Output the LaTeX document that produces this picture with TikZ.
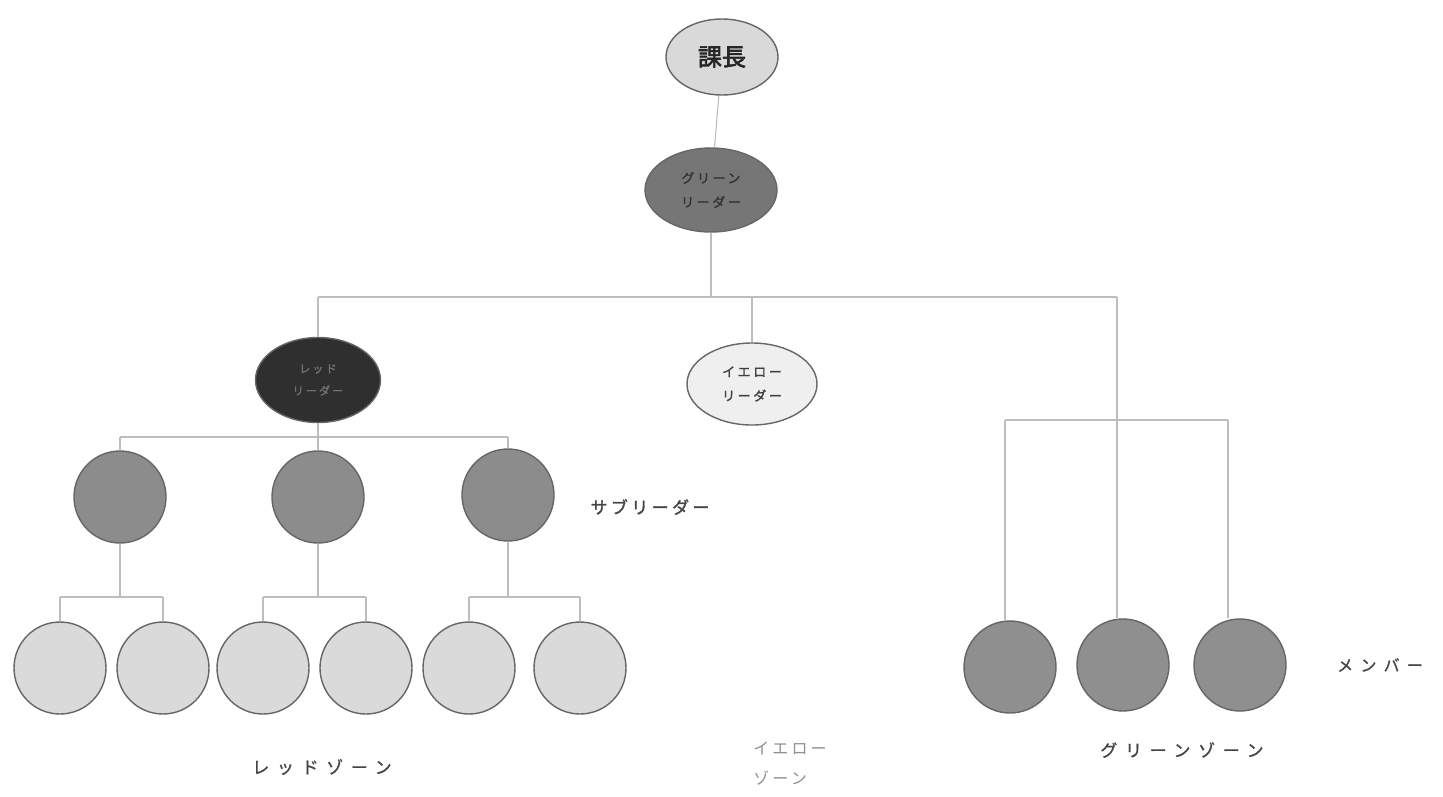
\documentclass[tikz,border=0pt]{standalone}
\usepackage{fontspec}
\usetikzlibrary{shapes.geometric}
\newfontfamily\cjk{Noto Sans CJK JP}[AutoFakeBold=2.5]
\newfontfamily\cjkwide{Noto Sans CJK JP}[LetterSpace=45,AutoFakeBold=1]
\newfontfamily\cjkmid{Noto Sans CJK JP}[LetterSpace=20,AutoFakeBold=1.5]
\definecolor{edgegray}{HTML}{666666}
\definecolor{linegray}{HTML}{BDBDBD}
\definecolor{chieffill}{HTML}{D9D9D9}
\definecolor{greenfill}{HTML}{767676}
\definecolor{redfill}{HTML}{2F2F2F}
\definecolor{yellowfill}{HTML}{EFEFEF}
\definecolor{subfill}{HTML}{8C8C8C}
\definecolor{leaffill}{HTML}{DADADA}
\definecolor{memberfill}{HTML}{8F8F8F}
\definecolor{labelgray}{HTML}{454545}
\tikzset{
  boss/.style={ellipse,draw=edgegray,line width=1.4pt,inner sep=0pt},
  member/.style={circle,draw=edgegray,line width=1.4pt,minimum size=92pt,inner sep=0pt},
  conn/.style={draw=linegray,line width=1.1pt},
  lbl/.style={font=\cjkwide\bfseries\fontsize{17}{20}\selectfont,text=labelgray}
}
\begin{document}
\begin{tikzpicture}[x=1pt,y=-1pt]
\useasboundingbox (0,0) rectangle (1443,796);
% leaders
\node[boss,fill=chieffill,minimum width=112pt,minimum height=76pt,font=\cjk\bfseries\fontsize{24}{26}\selectfont,text=black!85] (chief) at (722,57) {課長};
\node[boss,fill=greenfill,minimum width=132pt,minimum height=84pt,align=center,font=\cjkmid\bfseries\fontsize{13}{24}\selectfont,text=black!80] (green) at (711,190) {グリーン\\リーダー};
\node[boss,fill=redfill,minimum width=125pt,minimum height=85pt,align=center,font=\cjkmid\bfseries\fontsize{11}{22}\selectfont,text=black!55] (red) at (318,380) {レッド\\リーダー};
\node[boss,fill=yellowfill,minimum width=130pt,minimum height=82pt,align=center,font=\cjkmid\bfseries\fontsize{13}{24}\selectfont,text=black!75] (yellow) at (752,384) {イエロー\\リーダー};
% sub-leaders
\node[member,fill=subfill] (s1) at (120,497) {};
\node[member,fill=subfill] (s2) at (318,497) {};
\node[member,fill=subfill] (s3) at (508,495) {};
% leaves
\node[member,fill=leaffill] (l1) at (60,668) {};
\node[member,fill=leaffill] (l2) at (163,668) {};
\node[member,fill=leaffill] (l3) at (263,668) {};
\node[member,fill=leaffill] (l4) at (366,668) {};
\node[member,fill=leaffill] (l5) at (469,668) {};
\node[member,fill=leaffill] (l6) at (580,668) {};
% green members
\node[member,fill=memberfill] (m1) at (1010,667) {};
\node[member,fill=memberfill] (m2) at (1123,665) {};
\node[member,fill=memberfill] (m3) at (1240,665) {};
% labels
\node[lbl,font=\cjkmid\bfseries\fontsize{17}{20}\selectfont] (lsub) at (650,507) {サブリーダー};
\node[lbl,font=\cjkwide\bfseries\fontsize{16}{20}\selectfont] (lmem) at (1380,665) {メンバー};
\node[lbl] (lred) at (322,767) {レッドゾーン};
\node[lbl,align=left,font=\cjkmid\fontsize{16}{30}\selectfont,text=labelgray!60] (lyel) at (790,764) {イエロー\\ゾーン};
\node[lbl] (lgrn) at (1182,750) {グリーンゾーン};
% connectors
\coordinate (busTop) at (711,297);
\coordinate (busL) at (318,297);
\coordinate (busR) at (1117,297);
\coordinate (redBus) at (318,437);
\coordinate (redBusL) at (120,437);
\coordinate (redBusR) at (508,437);
\coordinate (grnBus) at (1117,420);
\coordinate (grnBusL) at (1005,420);
\coordinate (grnBusR) at (1228,420);
\draw[conn] (chief) -- (green);
\draw[conn] (green) -- (busTop);
\draw[conn] (busL) -- (busR);
\draw[conn] (busL) -- (red);
\draw[conn] (yellow.north) -- (yellow.north |- busTop);
\draw[conn] (busR) -- (grnBus);
\draw[conn] (grnBusL) -- (grnBusR);
\draw[conn] (grnBusL) -- (grnBusL |- m1.north);
\draw[conn] (grnBus) -- (grnBus |- m2.north);
\draw[conn] (grnBusR) -- (grnBusR |- m3.north);
\draw[conn] (red) -- (redBus);
\draw[conn] (redBusL) -- (redBusR);
\draw[conn] (redBusL) -- (s1);
\draw[conn] (redBus) -- (s2);
\draw[conn] (redBusR) -- (s3);
% sub-leader buses
\coordinate (b1) at (120,597);
\coordinate (b2) at (318,597);
\coordinate (b3) at (514,597);
\draw[conn] (s1) -- (b1);
\draw[conn] (s2) -- (b2);
\draw[conn] (s3.south) -- (s3.south |- b3);
\draw[conn] (l1.north |- b1) -- (l2.north |- b1);
\draw[conn] (l3.north |- b2) -- (l4.north |- b2);
\draw[conn] (l5.north |- b3) -- (l6.north |- b3);
\draw[conn] (l1.north |- b1) -- (l1);
\draw[conn] (l2.north |- b1) -- (l2);
\draw[conn] (l3.north |- b2) -- (l3);
\draw[conn] (l4.north |- b2) -- (l4);
\draw[conn] (l5.north |- b3) -- (l5);
\draw[conn] (l6.north |- b3) -- (l6);
\end{tikzpicture}
\end{document}
